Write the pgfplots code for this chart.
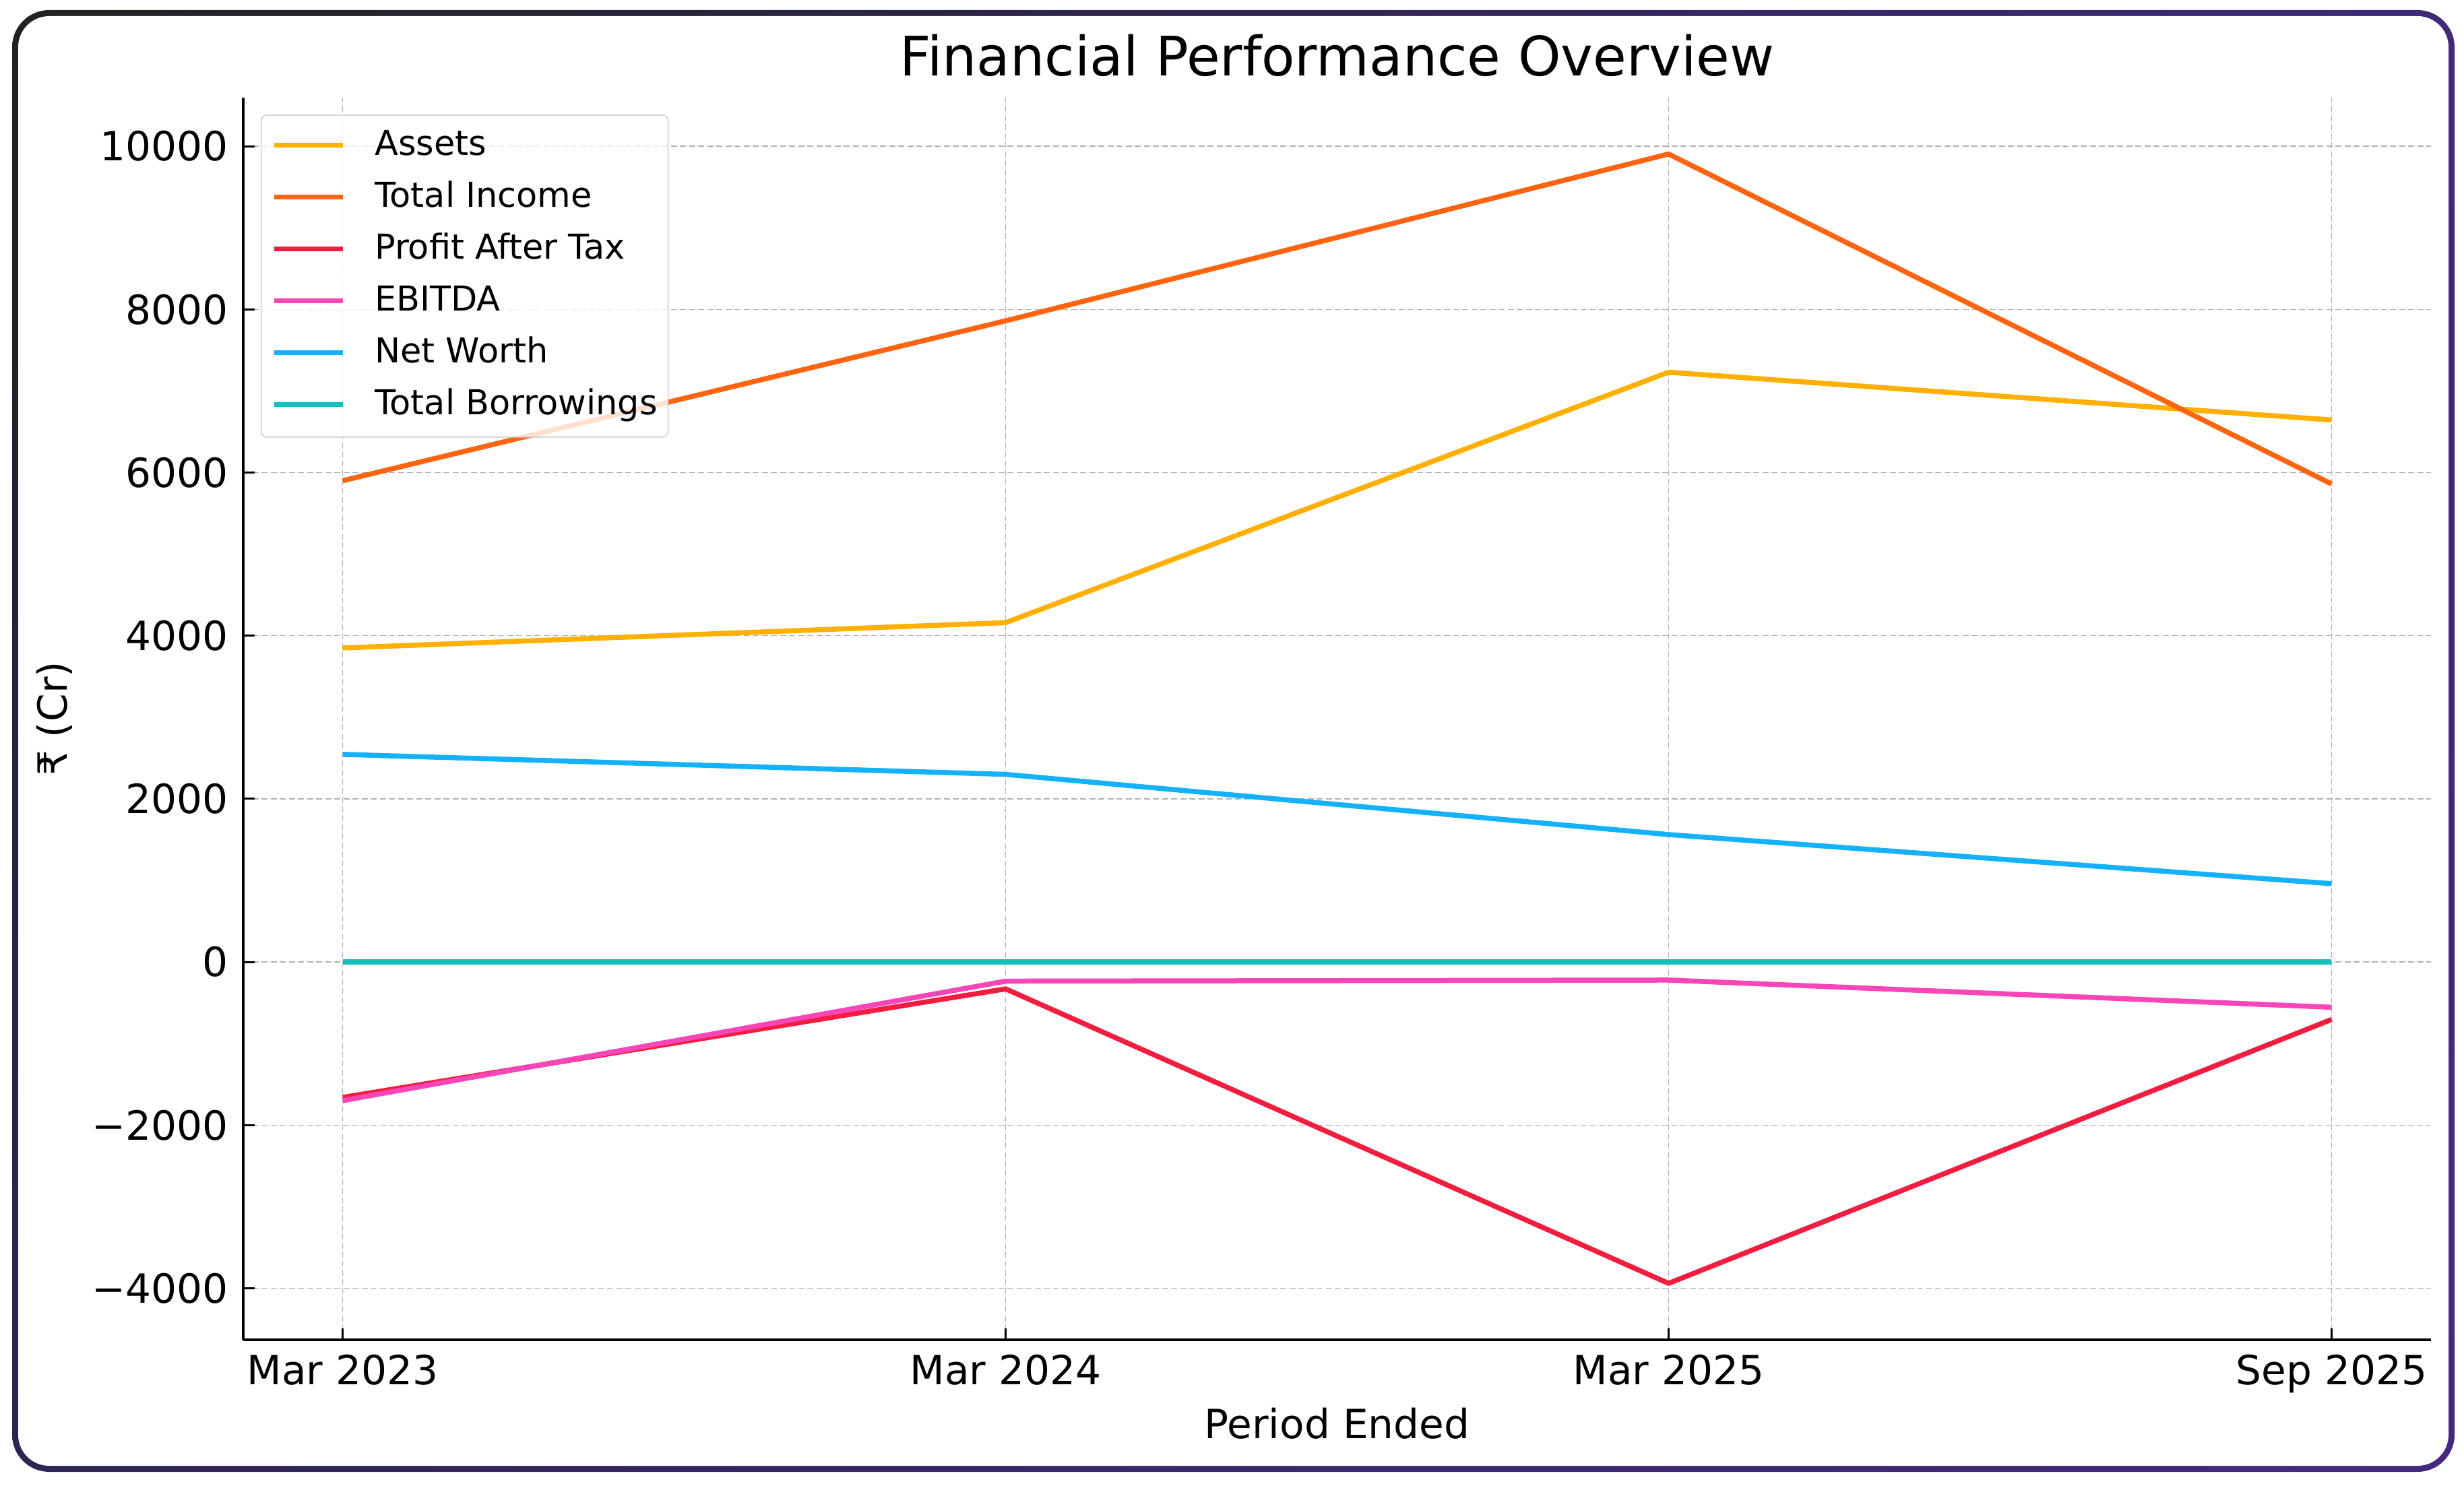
\documentclass[border=0pt]{standalone}
\usepackage{fontspec}
\setmainfont{DejaVu Sans}
\usepackage{pgfplots}
\pgfplotsset{compat=1.18}
\usetikzlibrary{shadings}

\definecolor{cAssets}{HTML}{FFB000}
\definecolor{cIncome}{HTML}{FF6411}
\definecolor{cPAT}{HTML}{F21D41}
\definecolor{cEBITDA}{HTML}{F845B8}
\definecolor{cWorth}{HTML}{14B1FC}
\definecolor{cBorrow}{HTML}{12C0BC}
\definecolor{frameUL}{HTML}{222222}
\definecolor{frameUR}{HTML}{40287A}
\definecolor{frameLL}{HTML}{2F2452}
\definecolor{frameLR}{HTML}{45297F}

\begin{document}
\begin{tikzpicture}
\useasboundingbox (0,0) rectangle (365.7mm,220.8mm);
% rounded frame, dark at top left to purple at bottom right
\shade[rounded corners=5.5mm, upper left=frameUL, upper right=frameUR, lower left=frameLL, lower right=frameLR]
  (1.8mm,2.3mm) rectangle (364.3mm,219.3mm);
\fill[white, rounded corners=4.6mm] (2.7mm,3.2mm) rectangle (363.4mm,218.4mm);
\begin{axis}[
  at={(36.1mm,21.9mm)}, anchor=south west,
  scale only axis, width=324.7mm, height=184.4mm,
  xmin=-0.15, xmax=3.15, ymin=-4632, ymax=10596,
  axis x line*=bottom, axis y line*=left,
  axis line style={-, line width=0.4mm, black},
  xtick={0,1,2,3},
  xticklabels={Mar 2023, Mar 2024, Mar 2025, Sep 2025},
  ytick={-4000,-2000,0,2000,4000,6000,8000,10000},
  yticklabels={−4000,−2000,0,2000,4000,6000,8000,10000},
  scaled y ticks=false,
  tick align=inside, major tick length=1.7mm,
  tick style={line width=0.3mm, black},
  ticklabel style={font=\fontsize{17}{20}\selectfont, inner sep=0pt},
  xticklabel style={anchor=base, yshift=-6.6mm},
  yticklabel style={anchor=east, xshift=-2.2mm},
  grid=major,
  major grid style={dash pattern=on 0.9mm off 0.45mm, line width=0.15mm, black!30},
  title={Financial Performance Overview},
  every axis title shift=0pt,
  title style={at={(0.5,1.0174)}, anchor=base, yshift=0pt, inner sep=0pt, font=\fontsize{23}{28}\selectfont},
  xlabel={Period Ended},
  xlabel style={at={(0.5,-0.0797)}, anchor=base, inner sep=0pt, font=\fontsize{17}{20}\selectfont},
  ylabel={₹ (Cr)},
  ylabel style={at={(-0.0804,0.5)}, anchor=base, inner sep=0pt, font=\fontsize{17}{20}\selectfont},
  every axis plot/.append style={line width=0.75mm, no marks, line join=round},
  legend cell align=left,
  legend image code/.code={\draw[#1, line width=0.75mm] (0mm,0.2mm) -- (10.2mm,0.2mm); \path (14.5mm,0mm);},
  legend style={at={(0.008,0.9864)}, anchor=north west, draw=black!20, line width=0.15mm,
    rounded corners=0.8mm, fill=white, fill opacity=0.8, text opacity=1,
    inner xsep=1.6mm, inner ysep=0.8mm, row sep=0pt,
    font=\fontsize{14.5}{16}\selectfont,
    nodes={inner sep=0pt, text height=5.2mm, text depth=2.5mm}},
]
\addplot[cAssets] coordinates {(0,3850) (1,4160) (2,7230) (3,6645)};
\addlegendentry{Assets}
\addplot[cIncome] coordinates {(0,5900) (1,7860) (2,9905) (3,5860)};
\addlegendentry{Total Income}
\addplot[cPAT] coordinates {(0,-1660) (1,-330) (2,-3940) (3,-705)};
\addlegendentry{Profit After Tax}
\addplot[cEBITDA] coordinates {(0,-1700) (1,-235) (2,-222) (3,-555)};
\addlegendentry{EBITDA}
\addplot[cWorth] coordinates {(0,2545) (1,2300) (2,1562) (3,960)};
\addlegendentry{Net Worth}
\addplot[cBorrow] coordinates {(0,0) (1,0) (2,0) (3,0)};
\addlegendentry{Total Borrowings}
\end{axis}
\end{tikzpicture}
\end{document}
